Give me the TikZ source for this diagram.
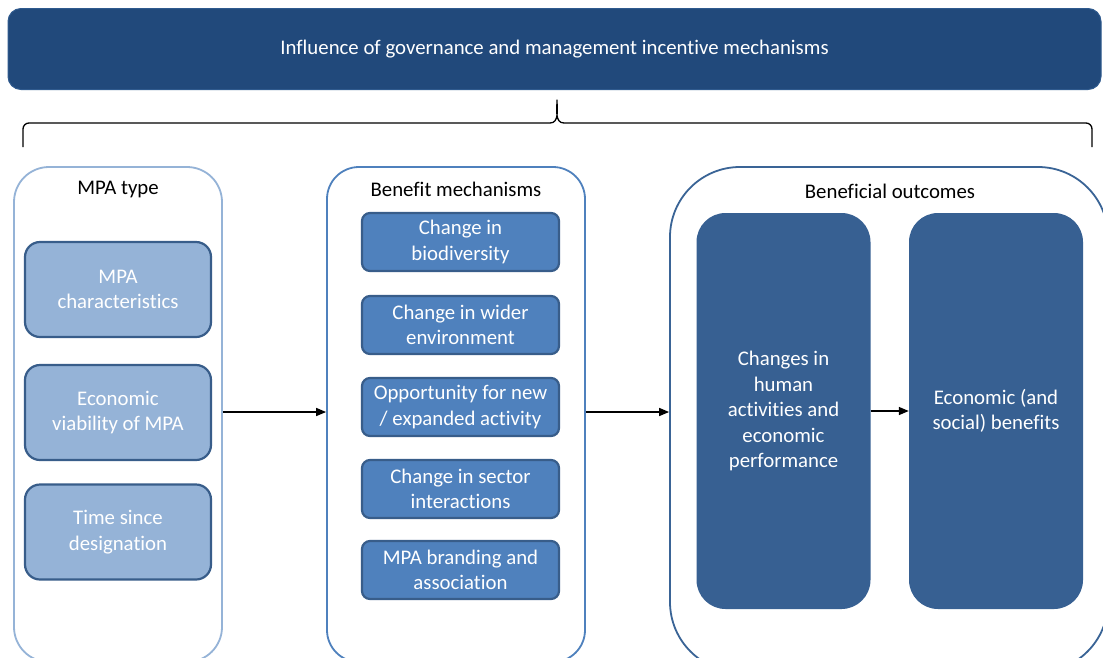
\documentclass[tikz,border=0pt]{standalone}
\usepackage{fontspec}
\setmainfont[Ligatures=NoCommon]{Carlito}
\usetikzlibrary{arrows.meta}
\definecolor{bannerblue}{HTML}{21497B}
\definecolor{bannerline}{HTML}{2F5A8E}
\definecolor{lightfill}{HTML}{95B3D7}
\definecolor{midfill}{HTML}{4F81BD}
\definecolor{boxline}{HTML}{385D8A}
\definecolor{darkfill}{HTML}{376092}
\definecolor{rightline}{HTML}{3A6496}
\tikzset{
  txt/.style={font=\fontsize{20.8}{25.5}\selectfont, align=center},
  panel/.style={draw, line width=1.8pt, fill=white, inner sep=0pt},
  lbox/.style={txt, text=white, fill=lightfill, draw=boxline, line width=2.2pt,
     rounded corners=15pt, minimum width=186pt, minimum height=95pt, inner sep=0pt},
  mbox/.style={txt, text=white, fill=midfill, draw=boxline, line width=2.2pt,
     rounded corners=8pt, minimum width=197pt, minimum height=58pt, inner sep=0pt},
  rbox/.style={txt, text=white, fill=darkfill, draw=none,
     rounded corners=29pt, minimum width=174pt, minimum height=396pt, inner sep=0pt},
  title/.style={txt, text=black},
  arr/.style={line width=1.5pt, -{Triangle[length=10pt,width=8pt]}},
}
\begin{document}
\begin{tikzpicture}[x=1pt,y=-1pt]
\useasboundingbox (0,0) rectangle (1103,657);
\clip (0,0) rectangle (1103,657);
\fill[white] (0,0) rectangle (1103,657);

% banner
\node[txt, text=white, fill=bannerblue, draw=bannerline, line width=1pt,
  rounded corners=13pt, minimum width=1093pt, minimum height=81pt, inner sep=0pt]
  (banner) at (554.5,49) {Influence of governance and management incentive mechanisms};

% brace
\coordinate (bl) at (23,147);
\coordinate (br) at (1092,147);
\coordinate (btip) at (557,100);
\draw[line width=1.3pt, line join=round]
  (bl) -- (23,129) to[out=90,in=180] (29,123) -- (550,123)
  to[out=0,in=-90] (btip) to[out=-90,in=180] (564,123)
  -- (1086,123) to[out=0,in=90] (1092,129) -- (br);

% panels
\node[panel, draw=lightfill, rounded corners=35pt, minimum width=208pt, minimum height=495pt]
  (lp) at (118,414.5) {};
\node[panel, draw=midfill, rounded corners=32pt, minimum width=258pt, minimum height=495pt]
  (mp) at (456,414.5) {};
\node[panel, draw=rightline, rounded corners=70pt, minimum width=438pt, minimum height=505pt]
  (rp) at (889,419.5) {};

% titles
\node[title] (t1) at (118,189) {MPA type};
\node[title] (t2) at (456,189) {Benefit mechanisms};
\node[title] (t3) at (890,191) {Beneficial outcomes};

% left boxes
\node[lbox] (l1) at (118,289.5) {MPA\\characteristics};
\node[lbox] (l2) at (118,412.5) {Economic\\viability of MPA};
\node[lbox] (l3) at (118,532) {Time since\\designation};

% middle boxes
\node[mbox] (m1) at (460.5,242) {Change in\\biodiversity};
\node[mbox] (m2) at (460.5,325) {Change in wider\\environment};
\node[mbox] (m3) at (460.5,407) {Opportunity for new\\/ expanded activity};
\node[mbox] (m4) at (460.5,489) {Change in sector\\interactions};
\node[mbox] (m5) at (460.5,570) {MPA branding and\\association};

% right boxes
\node[rbox] (ra) at (783.5,411) {Changes in\\human\\activities and\\economic\\performance};
\node[rbox] (rb) at (996,411) {Economic (and\\social) benefits};

% arrows
\coordinate (a1s) at (lp.east |- 0,412);
\coordinate (a1e) at (mp.west |- 0,412);
\coordinate (a2s) at (mp.east |- 0,412);
\coordinate (a2e) at (rp.west |- 0,412);
\draw[arr] (a1s) -- (a1e);
\draw[arr] (a2s) -- (a2e);
\draw[arr] (ra.east) -- (rb.west);
\end{tikzpicture}
\end{document}
